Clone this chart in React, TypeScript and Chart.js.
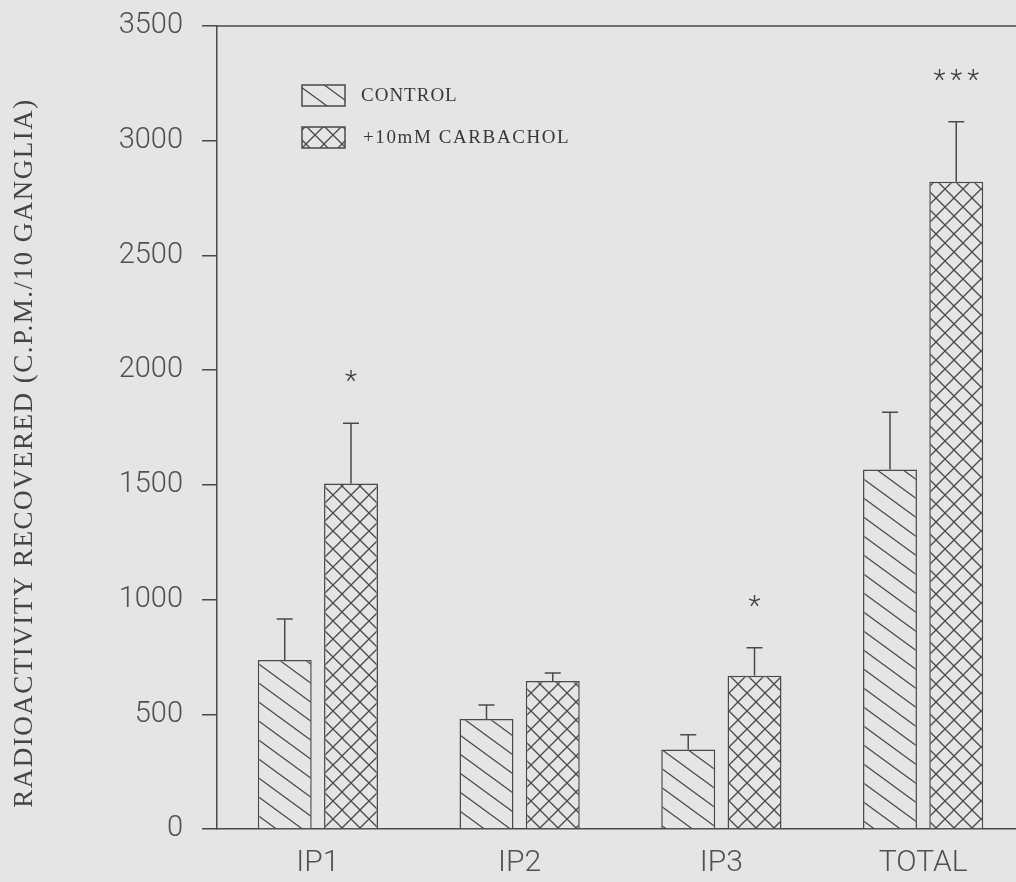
import { useEffect, useRef } from "react";
import { Chart, registerables } from "chart.js";

Chart.register(...registerables);

// ---- data ----
const categories = ["IP1", "IP2", "IP3", "TOTAL"];
const seriesLabels = ["CONTROL", "+10mM CARBACHOL"];
const controlValues = [737, 479, 347, 1567];
const controlErrors = [178, 62, 64, 249];
const carbacholValues = [1506, 645, 668, 2821];
const carbacholErrors = [262, 35, 122, 262];
const carbacholMarks = ["*", "", "*", "***"];
const controlMarks = ["", "", "", ""];
const yMin = 0;
const yMax = 3500;
const yStep = 500;
const yTitle = "RADIOACTIVITY RECOVERED (C.P.M./10 GANGLIA)";

// ---- style ----
const BG = "#e5e5e5";
const LINE = "#4a4a4a";
const TEXT = "#505050";
const SERIF = "'Liberation Serif', 'DejaVu Serif', serif";
const SANS = "Roboto, 'Liberation Sans', sans-serif";

function makeHatch(): HTMLCanvasElement {
  const W = 26, H = 19;
  const c = document.createElement("canvas");
  c.width = W; c.height = H;
  const g = c.getContext("2d")!;
  g.fillStyle = BG; g.fillRect(0, 0, W, H);
  g.strokeStyle = LINE; g.lineWidth = 1.3;
  for (let k = -1; k <= 1; k++) {
    g.beginPath();
    g.moveTo(-W, k * H - H);
    g.lineTo(2 * W, k * H + 2 * H);
    g.stroke();
  }
  return c;
}

function makeCross(): HTMLCanvasElement {
  const S = 18;
  const c = document.createElement("canvas");
  c.width = S; c.height = S;
  const g = c.getContext("2d")!;
  g.fillStyle = BG; g.fillRect(0, 0, S, S);
  g.strokeStyle = LINE; g.lineWidth = 1.3;
  for (let k = -1; k <= 2; k++) {
    g.beginPath();
    g.moveTo(-S, k * S - S);
    g.lineTo(2 * S, k * S + 2 * S);
    g.stroke();
    g.beginPath();
    g.moveTo(-S, k * S + S);
    g.lineTo(2 * S, k * S - 2 * S);
    g.stroke();
  }
  return c;
}

export default function App() {
  const ref = useRef<HTMLCanvasElement | null>(null);

  useEffect(() => {
    const canvas = ref.current;
    if (!canvas) return;
    const ctx = canvas.getContext("2d")!;
    const hatch = ctx.createPattern(makeHatch(), "repeat")!;
    const cross = ctx.createPattern(makeCross(), "repeat")!;
    const errors = [controlErrors, carbacholErrors];
    const marks = [controlMarks, carbacholMarks];
    const fills = [hatch, cross];

    const decor = {
      id: "decor",
      beforeDraw(chart: any) {
        const c = chart.ctx;
        c.save();
        c.fillStyle = BG;
        c.fillRect(0, 0, chart.width, chart.height);
        c.restore();
      },
      afterDatasetsDraw(chart: any) {
        const c = chart.ctx;
        const ys = chart.scales.y;
        const area = chart.chartArea;
        c.save();
        c.strokeStyle = LINE;
        c.lineWidth = 1.5;
        // top frame line
        c.beginPath();
        c.moveTo(area.left, area.top);
        c.lineTo(area.right, area.top);
        c.stroke();
        chart.data.datasets.forEach((ds: any, di: number) => {
          const meta = chart.getDatasetMeta(di);
          meta.data.forEach((bar: any, i: number) => {
            const v = ds.data[i];
            const e = errors[di][i];
            const x = bar.x;
            const y0 = ys.getPixelForValue(v);
            const y1 = ys.getPixelForValue(v + e);
            c.strokeStyle = LINE;
            c.lineWidth = 1.5;
            c.beginPath();
            c.moveTo(x, y0);
            c.lineTo(x, y1);
            c.moveTo(x - 8, y1);
            c.lineTo(x + 8, y1);
            c.stroke();
            const m = marks[di][i];
            if (m) {
              c.font = `300 28px ${SANS}`;
              (c as any).letterSpacing = "5px";
              c.fillStyle = "#404040";
              c.textAlign = "center";
              c.textBaseline = "alphabetic";
              const mt = c.measureText(m);
              const h = mt.actualBoundingBoxAscent - mt.actualBoundingBoxDescent;
              const cy = y1 - 39;
              c.fillText(m, x + 2.5, cy + mt.actualBoundingBoxAscent - h / 2);
              (c as any).letterSpacing = "0px";
            }
          });
        });
        c.restore();
      },
      afterDraw(chart: any) {
        const c = chart.ctx;
        c.save();
        // legend
        const items = [
          { y: 85, label: seriesLabels[0] },
          { y: 127, label: seriesLabels[1] },
        ];
        items.forEach((it, i) => {
          c.fillStyle = fills[i];
          c.fillRect(302, it.y, 43, 21);
          c.strokeStyle = LINE;
          c.lineWidth = 1.5;
          c.strokeRect(302, it.y, 43, 21);
          c.fillStyle = "#383838";
          c.font = `19px ${SERIF}`;
          (c as any).letterSpacing = i === 0 ? "1px" : "1.6px";
          c.textAlign = "left";
          c.textBaseline = "middle";
          c.fillText(it.label, i === 0 ? 361 : 363, it.y + 11);
        });
        // y axis title
        c.translate(25, 453);
        c.rotate(-Math.PI / 2);
        c.font = `27px ${SERIF}`;
        (c as any).letterSpacing = "1.5px";
        c.fillStyle = "#444444";
        c.textAlign = "center";
        c.textBaseline = "middle";
        c.fillText(yTitle, 0, 0);
        c.restore();
      },
    };

    const chart = new Chart(ctx, {
      type: "bar",
      data: {
        labels: categories,
        datasets: [
          {
            label: seriesLabels[0],
            data: controlValues,
            backgroundColor: hatch as any,
            borderColor: LINE,
            borderWidth: 1.5,
            categoryPercentage: 0.657,
            barPercentage: 0.814,
          },
          {
            label: seriesLabels[1],
            data: carbacholValues,
            backgroundColor: cross as any,
            borderColor: LINE,
            borderWidth: 1.5,
            categoryPercentage: 0.657,
            barPercentage: 0.814,
          },
        ],
      },
      options: {
        responsive: false,
        animation: false,
        devicePixelRatio: 1,
        layout: { padding: { top: 26, left: 0, right: 0, bottom: 0 } },
        plugins: {
          legend: { display: false },
          tooltip: { enabled: false },
          title: { display: false },
        },
        scales: {
          x: {
            grid: { display: false, drawTicks: false },
            border: { display: true, color: LINE, width: 1.5 },
            ticks: {
              color: TEXT,
              padding: 16,
              font: { family: SANS, size: 30, weight: "300" as any },
            },
            afterFit: (s: any) => {
              s.height = 53;
              s.paddingLeft = 0;
              s.paddingRight = 0;
            },
          },
          y: {
            min: yMin,
            max: yMax,
            grid: {
              display: true,
              drawOnChartArea: false,
              drawTicks: true,
              tickLength: 15,
              color: LINE,
              lineWidth: 1.5,
            },
            border: { display: true, color: LINE, width: 1.5 },
            ticks: {
              stepSize: yStep,
              color: TEXT,
              padding: 19,
              font: { family: SANS, size: 29, weight: "300" as any },
              callback: (v: any) => String(v),
            },
            afterFit: (s: any) => {
              s.width = 217;
              s.paddingTop = 0;
              s.paddingBottom = 0;
            },
          },
        },
      },
      plugins: [decor],
    });

    return () => chart.destroy();
  }, []);

  return (
    <div
      style={{
        position: "fixed",
        left: 0,
        top: 0,
        width: 1016,
        height: 882,
        overflow: "hidden",
        background: BG,
      }}
    >
      <canvas
        ref={ref}
        width={1024}
        height={882}
        style={{ display: "block", width: 1024, height: 882 }}
      />
    </div>
  );
}
